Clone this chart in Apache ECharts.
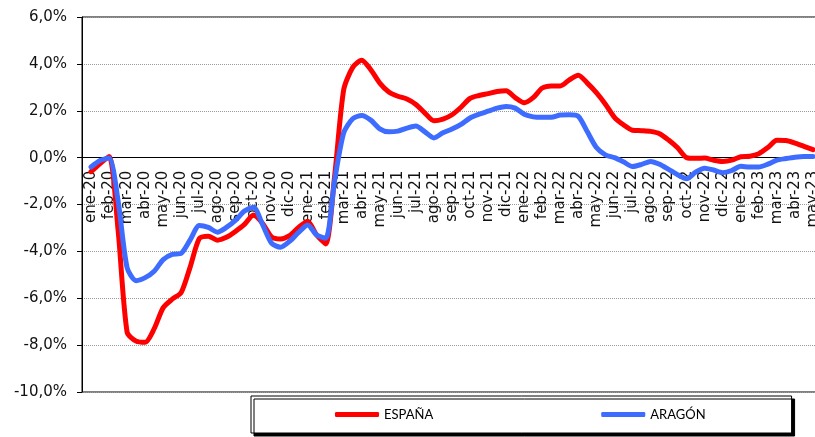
<!DOCTYPE html>
<html>
<head>
<meta charset="utf-8">
<script src="https://cdn.jsdelivr.net/npm/echarts@6/dist/echarts.min.js"></script>
<style>
  html, body { margin: 0; padding: 0; background: #fff; }
  #chart { width: 815px; height: 437px; }
</style>
</head>
<body>
<div id="chart"></div>
<script>
// meses del eje X (una categoria por mes)
var meses = ['ene-20', 'feb-20', 'mar-20', 'abr-20', 'may-20', 'jun-20', 'jul-20', 'ago-20', 'sep-20', 'oct-20', 'nov-20', 'dic-20',
  'ene-21', 'feb-21', 'mar-21', 'abr-21', 'may-21', 'jun-21', 'jul-21', 'ago-21', 'sep-21', 'oct-21', 'nov-21', 'dic-21',
  'ene-22', 'feb-22', 'mar-22', 'abr-22', 'may-22', 'jun-22', 'jul-22', 'ago-22', 'sep-22', 'oct-22', 'nov-22', 'dic-22',
  'ene-23', 'feb-23', 'mar-23', 'abr-23', 'may-23'];

// valores cada medio mes (%), desde ene-20 hasta may-23
var espana = [-0.6, -0.25, 0.05, -3.1, -7.45, -7.83, -7.88, -7.3, -6.4, -6.04,
  -5.75, -4.65, -3.45, -3.35, -3.52, -3.4, -3.15, -2.85, -2.45, -2.8,
  -3.38, -3.47, -3.33, -2.98, -2.71, -3.3, -3.68, -0.76, 2.9, 3.85,
  4.16, 3.75, 3.18, 2.8, 2.62, 2.5, 2.27, 1.9, 1.57, 1.64,
  1.83, 2.15, 2.53, 2.65, 2.73, 2.82, 2.85, 2.56, 2.34, 2.56,
  2.97, 3.06, 3.06, 3.32, 3.52, 3.18, 2.77, 2.28, 1.72, 1.4,
  1.17, 1.15, 1.12, 1.02, 0.75, 0.42, 0.0, -0.03, -0.02, -0.11,
  -0.16, -0.11, 0.04, 0.06, 0.17, 0.43, 0.74, 0.73, 0.62, 0.48, 0.34];

var aragon = [-0.4, -0.12, -0.02, -1.85, -4.7, -5.25, -5.12, -4.85, -4.35, -4.13,
  -4.08, -3.5, -2.9, -2.98, -3.18, -2.98, -2.68, -2.28, -2.12, -2.85,
  -3.65, -3.82, -3.57, -3.19, -2.87, -3.3, -3.44, -0.96, 1.06, 1.66,
  1.8, 1.6, 1.23, 1.1, 1.13, 1.26, 1.35, 1.1, 0.84, 1.06,
  1.22, 1.42, 1.69, 1.85, 1.98, 2.11, 2.18, 2.11, 1.85, 1.74,
  1.72, 1.72, 1.82, 1.83, 1.76, 1.1, 0.43, 0.12, 0.0, -0.18,
  -0.38, -0.29, -0.16, -0.28, -0.5, -0.73, -0.9, -0.62, -0.45, -0.53,
  -0.64, -0.55, -0.37, -0.4, -0.4, -0.28, -0.11, -0.04, 0.02, 0.05, 0.05];

var yMin = -10, yMax = 6, yPaso = 2;

// cada punto va a la mitad de un mes: indice / 2
function aPares(valores) {
  return valores.map(function (v, j) { return [j / 2, v]; });
}

// tamaño del grid, para subir el eje de meses hasta la linea del 0%
var gridTop = 17, gridBottom = 45, alto = 437 - gridTop - gridBottom;
var subirEje = alto * (0 - yMin) / (yMax - yMin);

var chart = echarts.init(document.getElementById('chart'));
chart.setOption({
  animation: false,
  backgroundColor: '#fff',
  grid: {
    left: 82, top: gridTop, bottom: gridBottom, right: -7,
    outerBoundsMode: 'none',
    show: true, borderColor: '#000', borderWidth: 1, backgroundColor: '#fff'
  },
  legend: {
    data: ['ESPAÑA', 'ARAGÓN'],
    left: 251, top: 396,
    padding: [12, 86, 12, 84],
    itemGap: 168, itemWidth: 44, itemHeight: 5,
    icon: 'roundRect',
    backgroundColor: '#fff', borderColor: '#000', borderWidth: 1,
    shadowColor: '#000', shadowOffsetX: 3, shadowOffsetY: 3, shadowBlur: 0,
    textStyle: {fontFamily: 'Lato', fontSize: 13, color: '#000'}
  },
  xAxis: [{
    type: 'category',
    data: meses,
    boundaryGap: true,
    position: 'bottom',
    offset: -subirEje,
    axisLine: {onZero: false, lineStyle: {color: '#000', width: 1}},
    axisTick: {interval: 0, length: 5, lineStyle: {color: '#000'}},
    axisLabel: {interval: 0, rotate: 90, margin: 13, fontFamily: 'DejaVu Sans', fontSize: 15, color: '#111'},
    splitLine: {show: false}
  }, {
    // eje auxiliar para colocar los puntos de medio mes
    type: 'value', show: false, min: -0.5, max: meses.length - 0.5,
    position: 'top',
    axisLine: {onZero: false}
  }],
  yAxis: {
    type: 'value',
    min: yMin, max: yMax, interval: yPaso,
    axisLine: {show: true, onZero: false, lineStyle: {color: '#000', width: 1}},
    axisTick: {show: true, length: 5, lineStyle: {color: '#000'}},
    axisLabel: {
      margin: 15, fontFamily: 'DejaVu Sans', fontSize: 15, color: '#111',
      formatter: function (v) { return v.toFixed(1).replace('.', ',') + '%'; }
    },
    splitLine: {show: true, lineStyle: {color: '#999', type: 'dotted', width: 1}}
  },
  series: [{
    name: 'ESPAÑA',
    type: 'line',
    xAxisIndex: 1,
    data: aPares(espana),
    showSymbol: false,
    smooth: 0.25,
    color: '#ff0000',
    lineStyle: {width: 5, color: '#ff0000', cap: 'round', join: 'round'}
  }, {
    name: 'ARAGÓN',
    type: 'line',
    xAxisIndex: 1,
    data: aPares(aragon),
    showSymbol: false,
    smooth: 0.25,
    color: '#3d6cff',
    lineStyle: {width: 5, color: '#3d6cff', cap: 'round', join: 'round'}
  }]
});
</script>
</body>
</html>
